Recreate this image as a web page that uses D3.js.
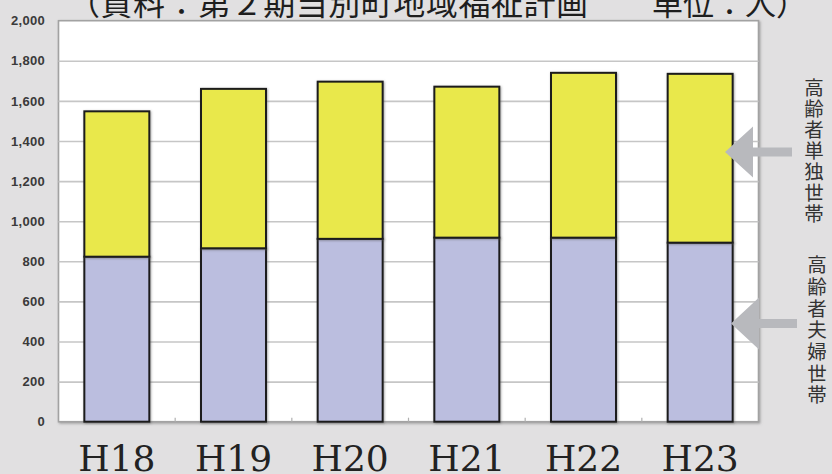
<!DOCTYPE html>
<html>
<head>
<meta charset="utf-8">
<script src="https://cdn.jsdelivr.net/npm/d3@7"></script>
<style>
  html, body { margin: 0; padding: 0; background: #e1e0e1; }
  svg { display: block; }
</style>
</head>
<body>
<svg id="chart" width="832" height="474"></svg>
<script>
// 年度
const years = ["H18", "H19", "H20", "H21", "H22", "H23"];
// 高齢者夫婦世帯（下段）
const coupleHouseholds = [823, 865, 912, 918, 918, 893];
// 高齢者単独世帯（上段）
const singleHouseholds = [725, 795, 784, 753, 822, 842];
// 縦軸の目盛
const yTickValues = [0, 200, 400, 600, 800, 1000, 1200, 1400, 1600, 1800, 2000];

const titleLeft = "（資料：第２期当別町地域福祉計画";
const titleRight = "単位：人）";
const labelSingle = "高齢者単独世帯";
const labelCouple = "高齢者夫婦世帯";

const svg = d3.select("#chart");
const plot = { left: 58.5, right: 758.5, top: 20.7, bottom: 421.7 };

const defs = svg.append("defs");
defs.append("filter").attr("id", "frameShadow")
  .attr("x", "-5%").attr("y", "-5%").attr("width", "110%").attr("height", "110%")
  .append("feDropShadow")
  .attr("dx", 1.2).attr("dy", 1.2).attr("stdDeviation", 1.2)
  .attr("flood-color", "#777").attr("flood-opacity", 0.6);
defs.append("filter").attr("id", "barSoft")
  .attr("x", "-10%").attr("y", "-10%").attr("width", "120%").attr("height", "120%")
  .append("feDropShadow")
  .attr("dx", 0.8).attr("dy", 0.8).attr("stdDeviation", 0.8)
  .attr("flood-color", "#555").attr("flood-opacity", 0.55);

const x = d3.scaleBand()
  .domain(years)
  .range([plot.left, plot.right])
  .paddingInner(0.443)
  .paddingOuter(0.2215);

const y = d3.scaleLinear()
  .domain([0, 2000])
  .range([plot.bottom, plot.top]);

// プロット領域
svg.append("rect")
  .attr("x", plot.left).attr("y", plot.top)
  .attr("width", plot.right - plot.left)
  .attr("height", plot.bottom - plot.top)
  .attr("fill", "#ffffff")
  .attr("stroke", "#a2a2a2")
  .attr("stroke-width", 1.6)
  .attr("filter", "url(#frameShadow)");

// 目盛線
svg.append("g")
  .attr("transform", `translate(${plot.left},0)`)
  .call(d3.axisLeft(y)
    .tickValues(yTickValues.filter(v => v > 0 && v < 2000))
    .tickSize(-(plot.right - plot.left))
    .tickFormat(""))
  .call(g => g.select(".domain").remove())
  .call(g => g.selectAll("line").attr("stroke", "#c6c6c6").attr("stroke-width", 1.6));

// 区切りの小目盛
const bounds = years.slice(1).map(d => x(d) - x.step() * x.paddingInner() / 2);
svg.append("g").selectAll("line")
  .data(bounds).join("line")
  .attr("x1", d => d).attr("x2", d => d)
  .attr("y1", plot.bottom).attr("y2", plot.bottom - 4)
  .attr("stroke", "#b0b0b0").attr("stroke-width", 1.2);

// 積み上げ棒
const rows = years.map((yr, i) => ({ year: yr, couple: coupleHouseholds[i], single: singleHouseholds[i] }));
const series = d3.stack().keys(["couple", "single"])(rows);
const colors = { couple: "#bbbedf", single: "#e9e84b" };

svg.append("g").selectAll("g")
  .data(series).join("g")
  .attr("fill", d => colors[d.key])
  .selectAll("rect")
  .data(d => d).join("rect")
  .attr("x", d => x(d.data.year))
  .attr("width", x.bandwidth())
  .attr("y", d => y(d[1]))
  .attr("height", d => y(d[0]) - y(d[1]))
  .attr("stroke", "#1c1c1c")
  .attr("stroke-width", 2)
  .attr("filter", "url(#barSoft)");

// 縦軸ラベル
svg.append("g")
  .attr("transform", `translate(45,0)`)
  .call(d3.axisLeft(y).tickValues(yTickValues).tickSize(0).tickPadding(0)
    .tickFormat(d3.format(",")))
  .call(g => g.select(".domain").remove())
  .call(g => g.selectAll("text")
    .attr("font-family", "Liberation Sans, Arial, sans-serif")
    .attr("font-size", 13)
    .attr("font-weight", "bold")
    .attr("letter-spacing", 0.3)
    .attr("fill", "#3a3a3a"));

// 横軸ラベル
svg.append("g")
  .attr("transform", `translate(0,${plot.bottom})`)
  .call(d3.axisBottom(x).tickSize(0).tickPadding(0))
  .call(g => g.select(".domain").remove())
  .call(g => g.selectAll("text")
    .attr("y", 49)
    .attr("dy", 0)
    .attr("font-family", "DejaVu Serif, serif")
    .attr("font-size", 36)
    .attr("fill", "#222"));

// 表題（上端で切れている）
const titleFont = "Noto Sans CJK JP, sans-serif";
svg.append("text")
  .attr("x", 68).attr("y", 15)
  .attr("font-family", titleFont).attr("font-size", 32)
  .attr("fill", "#1e1e1e")
  .attr("textLength", 520).attr("lengthAdjust", "spacing")
  .text(titleLeft);
svg.append("text")
  .attr("x", 652).attr("y", 15)
  .attr("font-family", titleFont).attr("font-size", 31)
  .attr("fill", "#1e1e1e")
  .text(titleRight);

// 右側の凡例（縦書き）と矢印
const arrowColor = "#b8b9bd";
function arrow(tipX, tipY, headBaseX, halfHead, tailX, shaftHalf) {
  const p = d3.path();
  p.moveTo(tipX, tipY);
  p.lineTo(headBaseX, tipY - halfHead);
  p.lineTo(headBaseX, tipY - shaftHalf);
  p.lineTo(tailX, tipY - shaftHalf);
  p.lineTo(tailX, tipY + shaftHalf);
  p.lineTo(headBaseX, tipY + shaftHalf);
  p.lineTo(headBaseX, tipY + halfHead);
  p.closePath();
  return p.toString();
}
const singleArrowAt = 1345;
const coupleArrowAt = 490;
svg.append("path")
  .attr("d", arrow(725, y(singleArrowAt), 753, 25.5, 792, 4.5))
  .attr("fill", arrowColor);
svg.append("path")
  .attr("d", arrow(731, y(coupleArrowAt), 759, 26, 797, 4.5))
  .attr("fill", arrowColor);

// 縦書きラベル
function verticalLabel(str, cx, top, size, pitch) {
  svg.append("text")
    .attr("x", cx)
    .attr("y", top)
    .style("writing-mode", "vertical-rl")
    .style("text-orientation", "upright")
    .attr("letter-spacing", pitch - size)
    .attr("font-family", "Noto Sans CJK JP, sans-serif")
    .attr("font-size", size)
    .attr("fill", "#333")
    .text(str);
}
verticalLabel(labelSingle, 814, 78, 19.5, 21);
verticalLabel(labelCouple, 817, 255, 19.5, 21.7);
</script>
</body>
</html>
